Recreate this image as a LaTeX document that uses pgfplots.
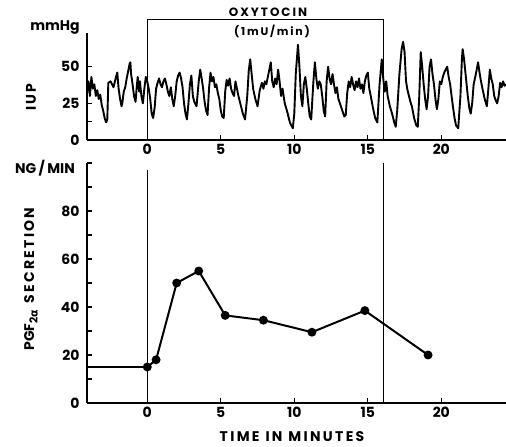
\documentclass[border=0pt]{standalone}
\usepackage{pgfplots}
\pgfplotsset{compat=1.18}
\usepackage{fontspec}
\setmainfont{Poppins}
\newfontfamily\greekfont{DejaVu Sans}
\begin{document}
\bfseries
\begin{tikzpicture}[x=1pt,y=1pt]
\useasboundingbox (0,0) rectangle (506,447);
\pgfplotsset{myax/.style={
  scale only axis, width=419pt, xmin=-4.1, xmax=24.4,
  axis x line=bottom, axis y line=left,
  axis line style={-, line width=1.7pt},
  xtick={0,5,10,15,20},
  tick align=inside, major tick length=5pt, minor tick length=5pt,
  tick style={line width=1.3pt, black},
  /pgf/number format/assume math mode=true,
  tick label style={font=\fontsize{14}{16}\selectfont\bfseries},
  xticklabel style={yshift=-1pt},
  yticklabel style={xshift=-4pt},
  clip=false}}
% top axis
\begin{axis}[myax, at={(87pt,307pt)}, anchor=south west,
  height=107pt, ymin=0, ymax=73,
  ytick={0,25,50}, minor ytick={12.5,37.5}]
\addplot[line width=1.9pt, line join=round] coordinates {
(-4.1,32) (-4.0,40) (-3.9,30) (-3.8,43) (-3.7,35) (-3.6,38) (-3.5,30) (-3.4,34) (-3.3,28) (-3.2,31)
(-3.1,24) (-3.0,20) (-2.9,15) (-2.8,12) (-2.72,14) (-2.65,39) (-2.5,40) (-2.4,38) (-2.3,36) (-2.2,40)
(-2.1,44) (-2.04,46) (-1.95,35) (-1.85,28) (-1.75,23) (-1.7,25) (-1.6,33) (-1.5,36) (-1.4,42) (-1.3,47)
(-1.2,52) (-1.15,53) (-1.1,45) (-1.0,38) (-0.9,30) (-0.8,26) (-0.7,38) (-0.65,43) (-0.55,33) (-0.5,40)
(-0.4,30) (-0.3,25) (-0.2,35) (-0.1,43) (0.0,40) (0.1,35) (0.2,28) (0.3,18) (0.4,15) (0.5,22)
(0.6,35) (0.7,39) (0.8,42) (0.9,38) (1.0,36) (1.1,40) (1.2,42) (1.3,38) (1.4,33) (1.5,30)
(1.6,36) (1.7,28) (1.8,23) (1.9,30) (2.0,40) (2.1,44) (2.2,46) (2.3,42) (2.4,36) (2.5,25)
(2.6,18) (2.7,14) (2.8,25) (2.9,38) (3.0,44) (3.1,30) (3.2,26) (3.35,23) (3.5,40) (3.6,48)
(3.7,42) (3.8,35) (3.9,26) (4.0,20) (4.1,17) (4.2,35) (4.3,46) (4.4,40) (4.5,43) (4.6,36)
(4.7,38) (4.8,32) (4.9,28) (5.0,20) (5.1,16) (5.2,15) (5.3,33) (5.4,41) (5.5,37) (5.6,42)
(5.7,35) (5.8,32) (5.9,30) (6.0,40) (6.1,35) (6.2,30) (6.35,24) (6.5,18) (6.65,14) (6.8,30)
(6.9,47) (7.0,55) (7.1,45) (7.2,35) (7.35,28) (7.5,23) (7.65,34) (7.8,39) (7.9,35) (8.0,40)
(8.1,38) (8.2,43) (8.3,48) (8.4,53) (8.5,40) (8.6,36) (8.7,42) (8.8,38) (8.9,48) (9.0,40)
(9.1,30) (9.2,35) (9.35,25) (9.5,20) (9.7,12) (9.9,8) (10.0,18) (10.1,45) (10.25,65) (10.35,50)
(10.45,30) (10.55,23) (10.65,38) (10.75,43) (10.85,35) (10.95,25) (11.05,16) (11.15,14) (11.3,40) (11.4,53)
(11.5,42) (11.6,35) (11.7,40) (11.8,38) (11.9,30) (12.0,20) (12.1,16) (12.2,40) (12.3,50) (12.4,42)
(12.5,38) (12.6,45) (12.7,38) (12.8,32) (12.9,36) (13.0,28) (13.2,22) (13.4,16) (13.5,17) (13.6,32)
(13.7,40) (13.8,36) (13.9,43) (14.0,38) (14.1,34) (14.2,40) (14.3,36) (14.4,42) (14.5,35) (14.6,38)
(14.7,32) (14.8,40) (14.9,44) (15.0,46) (15.1,35) (15.2,30) (15.35,22) (15.5,15) (15.65,12) (15.8,38)
(15.95,55) (16.05,42) (16.15,33) (16.25,40) (16.35,30) (16.5,23) (16.65,18) (16.8,12) (16.9,9) (17.0,20)
(17.15,45) (17.3,62) (17.4,67) (17.5,60) (17.6,40) (17.7,34) (17.8,30) (17.9,26) (18.0,23) (18.15,15)
(18.3,10) (18.4,9) (18.5,30) (18.6,60) (18.7,50) (18.8,38) (18.9,28) (19.0,21) (19.1,30) (19.2,50)
(19.3,55) (19.4,45) (19.5,38) (19.6,28) (19.7,21) (19.8,28) (19.9,40) (20.0,38) (20.1,43) (20.2,46)
(20.3,48) (20.4,50) (20.5,43) (20.6,38) (20.7,30) (20.8,22) (20.9,15) (21.0,10) (21.15,8) (21.3,30)
(21.4,55) (21.45,62) (21.55,55) (21.7,40) (21.8,30) (21.9,22) (22.0,18) (22.1,25) (22.2,38) (22.35,45)
(22.5,53) (22.6,46) (22.7,40) (22.8,35) (22.95,28) (23.1,23) (23.2,35) (23.3,48) (23.4,42) (23.5,38)
(23.6,30) (23.7,27) (23.8,25) (23.9,30) (24.0,39) (24.1,36) (24.2,40) (24.3,37) (24.4,38)
};
\addplot[line width=1pt] coordinates {(0,0) (0,82) (16.1,82) (16.1,0)};
\end{axis}
% bottom axis
\begin{axis}[myax, at={(87pt,44pt)}, anchor=south west,
  height=240pt, ymin=0, ymax=100,
  ytick={0,20,40,60,80}, minor ytick={10,30,50,70,90,100}]
\addplot[line width=1pt] coordinates {(0,0) (0,97)};
\addplot[line width=1pt] coordinates {(16.1,0) (16.1,100)};
\addplot[line width=1.4pt] coordinates {(-4.1,15) (0,15)};
\addplot[line width=2pt, mark=*, mark size=3.4pt] coordinates {
(0,15) (0.6,18) (2.0,50) (3.5,55) (5.3,36.5) (7.9,34.5) (11.2,29.5) (14.8,38.5) (19.1,20)};
\end{axis}
\begin{scope}[font=\fontsize{14}{16}\selectfont\bfseries]
\node at (55,419) {mmHg};
\node[rotate=90] at (31,350) {I\,U\,P};
\node at (45,279) {NG\,/\,MIN};
\node[rotate=90] at (31,168) {PGF\raisebox{-3.5pt}{\fontsize{11}{12}\selectfont 2{\greekfont\bfseries α}}\ \ S\,E\,C\,R\,E\,T\,I\,O\,N};
\node at (292,10) {T\,I\,M\,E\ \ I\,N\ \ M\,I\,N\,U\,T\,E\,S};
\end{scope}
\node[font=\fontsize{12}{14}\selectfont\bfseries] at (268,435) {O\,X\,Y\,T\,O\,C\,I\,N};
\node[font=\fontsize{11}{13}\selectfont\bfseries] at (272,416) {(\,1\,m\,U\,/\,m\,i\,n\,)};
\end{tikzpicture}
\end{document}
